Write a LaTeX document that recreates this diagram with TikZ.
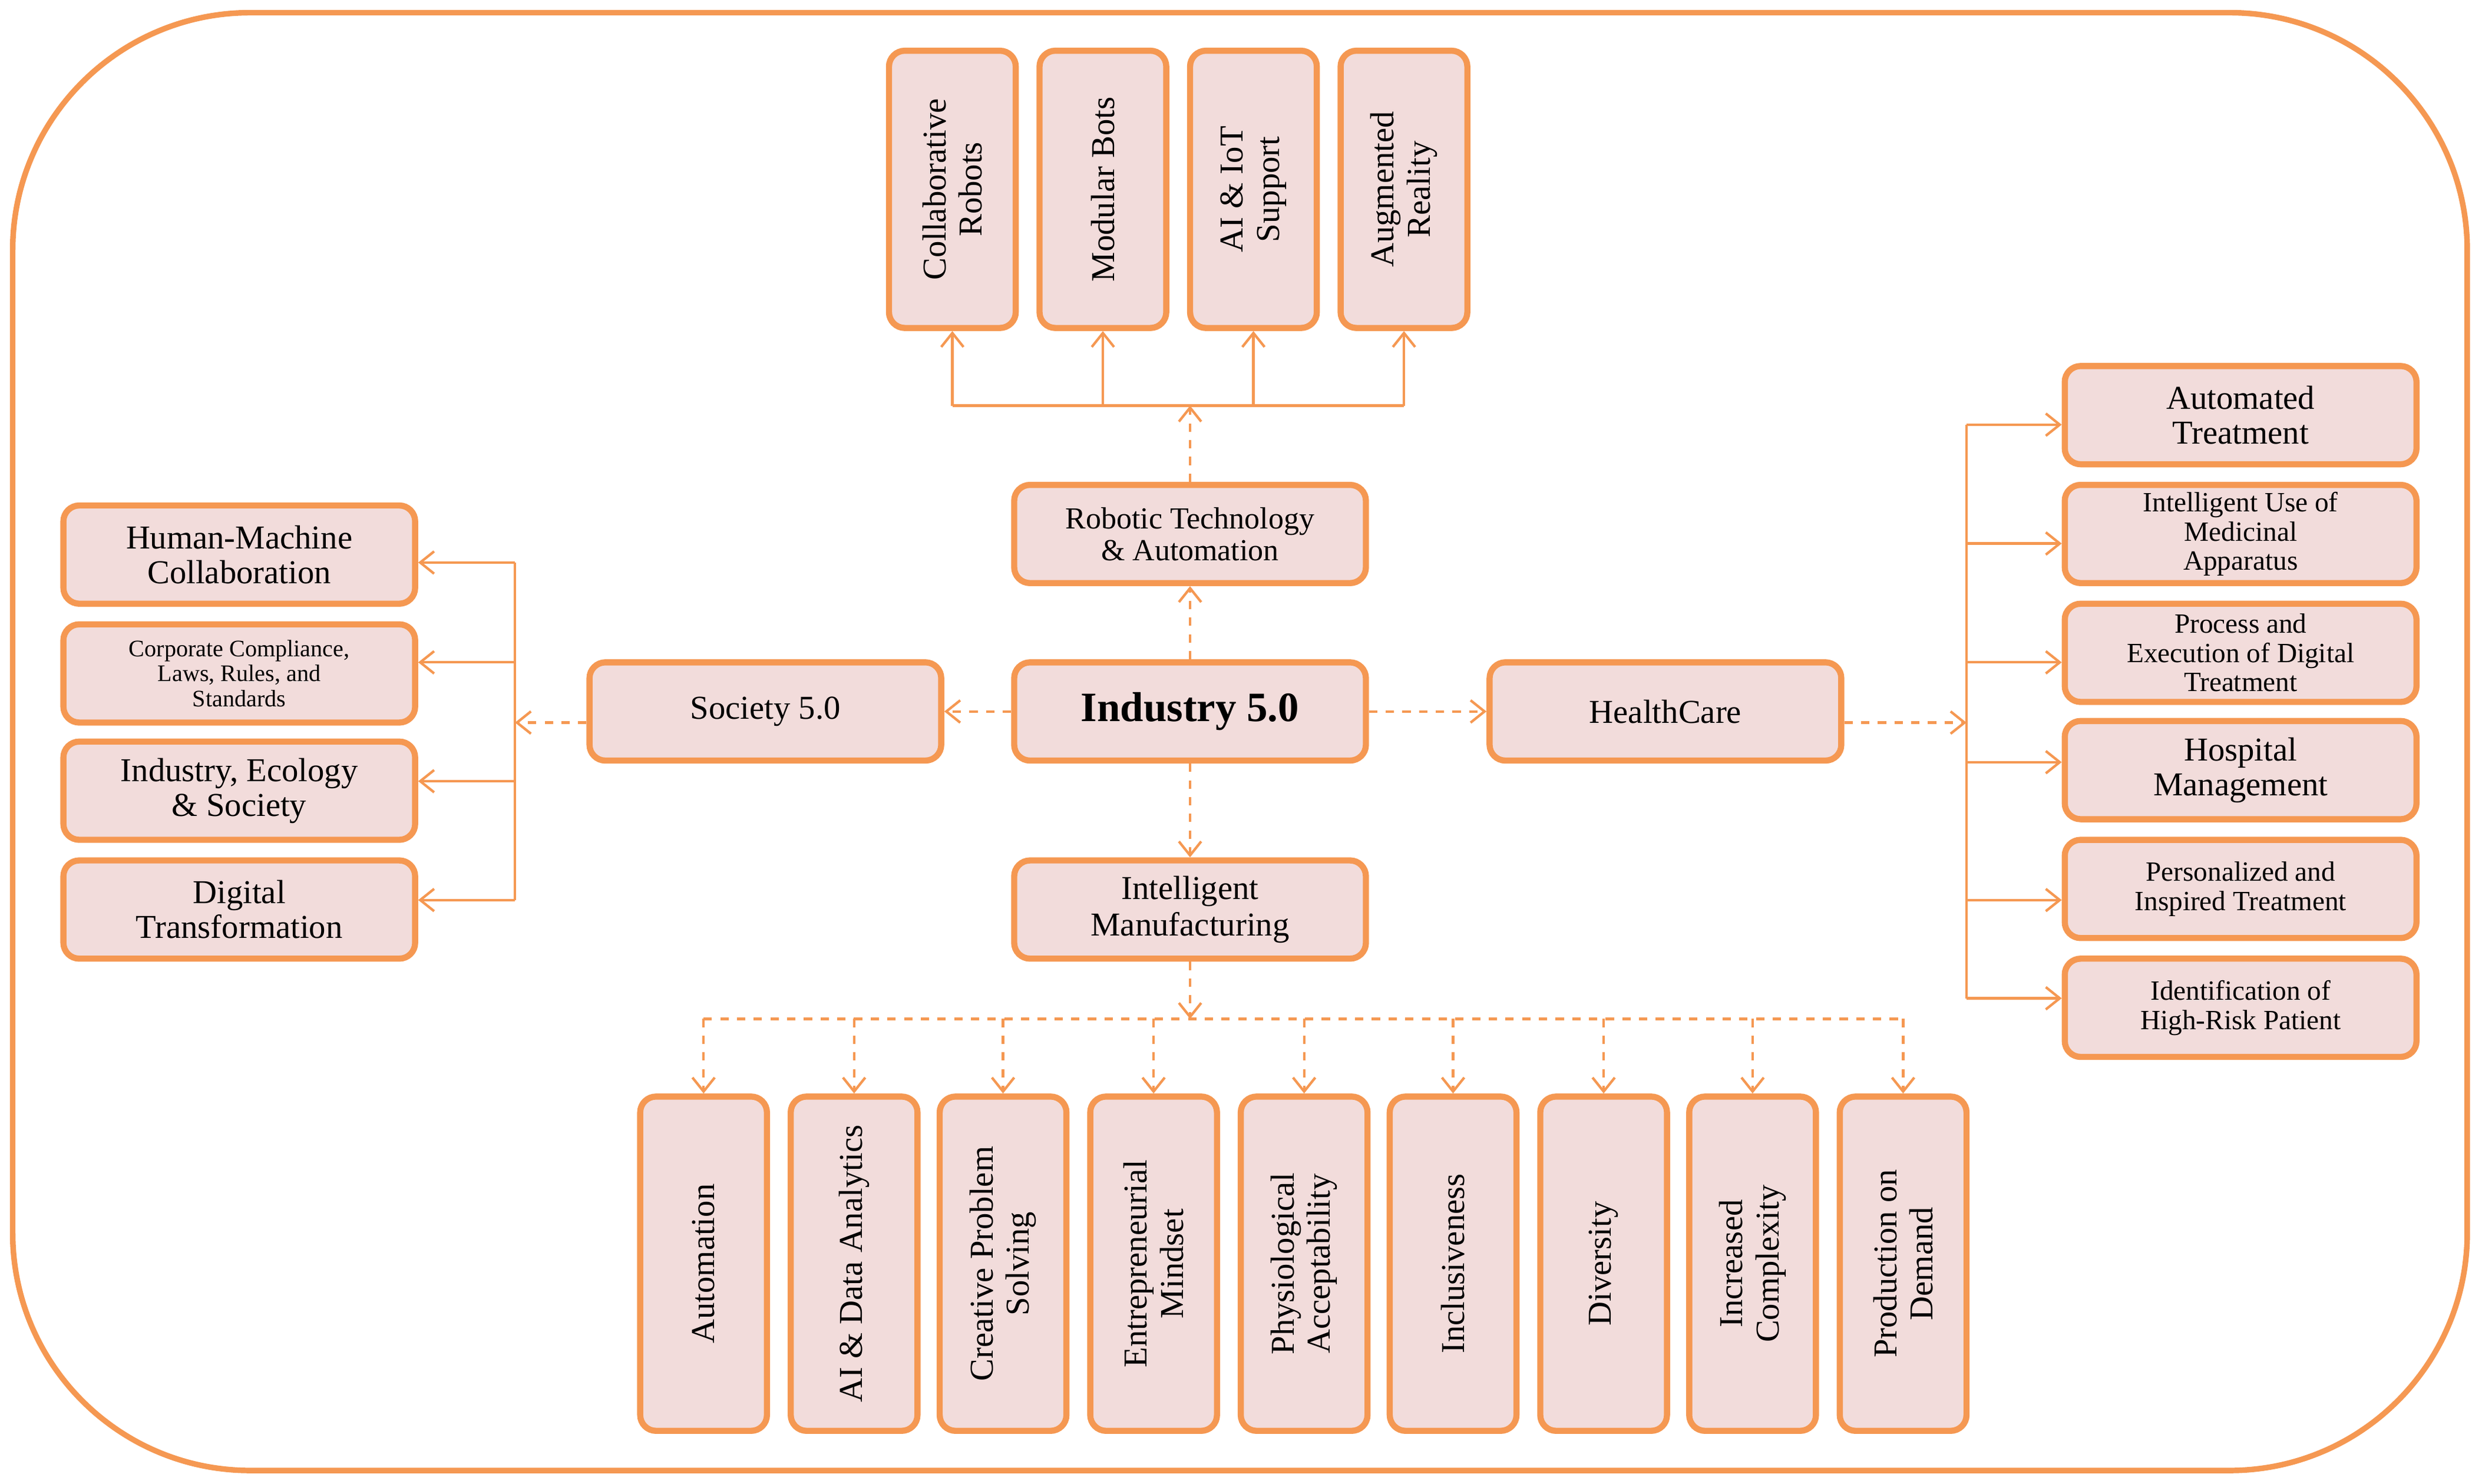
\documentclass[tikz,border=0pt]{standalone}
\usepackage{fontspec}
\setmainfont{Liberation Serif}
\usetikzlibrary{arrows.meta}
\definecolor{oc}{RGB}{245,152,82}
\definecolor{pf}{RGB}{242,220,219}
\begin{document}
\begin{tikzpicture}[x=0.02cm,y=-0.02cm,
 box/.style={draw=oc,fill=pf,line width=2.2pt,rounded corners=0.2cm,minimum width=4.44cm,minimum height=1.24cm,align=center,inner sep=1pt,font=\fontsize{11}{11.5}\selectfont},
 vbox/.style={draw=oc,fill=pf,line width=2.2pt,rounded corners=0.2cm,align=center,inner sep=1pt,rotate=90,font=\fontsize{12}{13}\selectfont},
 con/.style={draw=oc,line width=0.9pt,-{Straight Barb[length=5pt,width=8pt]}},
 dcon/.style={con,dashed},
 ln/.style={draw=oc,line width=0.9pt}]
\useasboundingbox (0,0) rectangle (1560,936.5);
\draw[oc,line width=2pt,rounded corners=3cm] (8,8) rectangle (1557,928);
% top
\foreach \n/\x/\t in {t1/601/{Collaborative\\Robots},t2/696/{Modular Bots},t3/791/{AI \& IoT\\Support},t4/886/{Augmented\\Reality}}
 \node[vbox,minimum width=3.5cm,minimum height=1.6cm] (\n) at (\x,119.5) {\t};
\node[box] (rob) at (751,337) {Robotic Technology\\\& Automation};
\node[box,font=\fontsize{15}{16}\selectfont\bfseries] (ind) at (751,449) {Industry 5.0};
\node[box,font=\fontsize{12}{13}\selectfont] (soc) at (483,449) {Society 5.0};
\node[box,font=\fontsize{12}{13}\selectfont] (hc) at (1051,449) {HealthCare};
\node[box,font=\fontsize{12}{13}\selectfont] (im) at (751,574) {Intelligent\\Manufacturing};
% left
\node[box,font=\fontsize{12}{12.5}\selectfont] (l1) at (151,350) {Human-Machine\\Collaboration};
\node[box,font=\fontsize{8.5}{9}\selectfont] (l2) at (151,425) {Corporate Compliance,\\Laws, Rules, and\\Standards};
\node[box,font=\fontsize{12}{12.5}\selectfont] (l3) at (151,499) {Industry, Ecology\\\& Society};
\node[box,font=\fontsize{12}{12.5}\selectfont] (l4) at (151,574) {Digital\\Transformation};
% right
\node[box,font=\fontsize{12}{12.5}\selectfont] (r1) at (1414,262) {Automated\\Treatment};
\node[box,font=\fontsize{10}{10.5}\selectfont] (r2) at (1414,337) {Intelligent Use of\\Medicinal\\Apparatus};
\node[box,font=\fontsize{10}{10.5}\selectfont] (r3) at (1414,412) {Process and\\Execution of Digital\\Treatment};
\node[box,font=\fontsize{12}{12.5}\selectfont] (r4) at (1414,486) {Hospital\\Management};
\node[box,font=\fontsize{10}{10.5}\selectfont] (r5) at (1414,561) {Personalized and\\Inspired Treatment};
\node[box,font=\fontsize{10}{10.5}\selectfont] (r6) at (1414,636) {Identification of\\High-Risk Patient};
% bottom
\foreach \n/\x/\t in {b1/444/{Automation},b2/539/{AI \& Data Analytics},b3/633/{Creative Problem\\Solving},b4/728/{Entrepreneurial\\Mindset},b5/823/{Physiological\\Acceptability},b6/917/{Inclusiveness},b7/1012/{Diversity},b8/1106/{Increased\\Complexity},b9/1201/{Production on\\Demand}}
 \node[vbox,minimum width=4.22cm,minimum height=1.6cm] (\n) at (\x,797.5) {\t};
% connectors center
\draw[dcon] (ind.north) -- (rob.south);
\draw[dcon] (ind.south) -- (im.north);
\draw[dcon] (ind.west) -- (soc.east);
\draw[dcon] (ind.east) -- (hc.east-|hc.west);
% top tree
\coordinate (tj) at (751,256);
\draw[dcon] (rob.north) -- (tj);
\draw[ln] (t1.west|-tj) -- (t4.west|-tj);
\foreach \n in {t1,t2,t3,t4} \draw[con] (\n.west|-tj) -- (\n.west);
% left tree
\coordinate (lj) at (325,456);
\draw[dcon] (soc.west|-lj) -- (lj);
\draw[ln] (325,355) -- (325,568);
\draw[con] (325,355) -- (l1.east|-0,355);
\draw[con] (325,418) -- (l2.east|-0,418);
\draw[con] (325,493) -- (l3.east|-0,493);
\draw[con] (325,568) -- (l4.east|-0,568);
% right tree
\coordinate (rj) at (1241,456);
\draw[dcon] (hc.east|-rj) -- (rj);
\draw[ln] (1241,268) -- (1241,630);
\foreach \n/\y in {r1/268,r2/343,r3/418,r4/481,r5/568,r6/630} \draw[con] (1241,\y) -- (\n.west|-0,\y);
% bottom tree
\coordinate (bj) at (751,643);
\draw[dcon] (im.south) -- (bj);
\draw[ln,dashed] (b1.east|-bj) -- (b9.east|-bj);
\foreach \n in {b1,b2,b3,b4,b5,b6,b7,b8,b9} \draw[dcon] (\n.east|-bj) -- (\n.east);
\end{tikzpicture}
\end{document}
